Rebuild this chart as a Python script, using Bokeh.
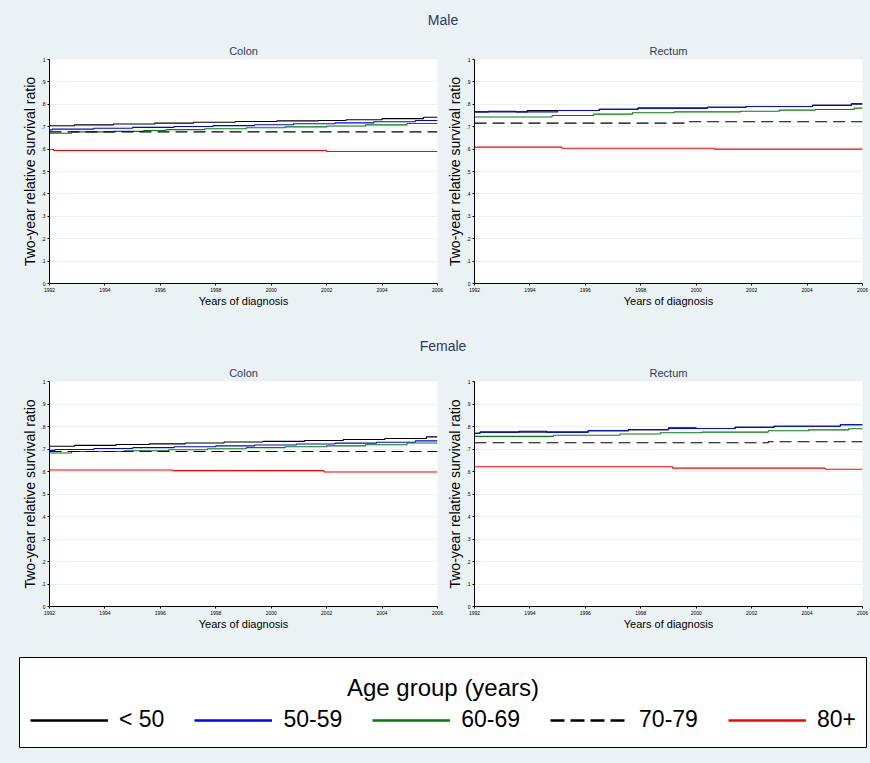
from bokeh.plotting import figure
from bokeh.models import Range1d, CustomJSTickFormatter, Legend, LegendItem
from bokeh.layouts import column, row
from bokeh.embed import file_html
from bokeh.resources import INLINE
from bokeh.core.properties import value

# ---------------- data ----------------
groups = ["< 50", "50-59", "60-69", "70-79", "80+"]
x_ticks = [1992, 1994, 1996, 1998, 2000, 2002, 2004, 2006]
y_ticks = [0, 0.1, 0.2, 0.3, 0.4, 0.5, 0.6, 0.7, 0.8, 0.9, 1.0]

# Male - Colon
mc_lt50_x = [1992, 1992.9, 1994.3, 1995.8, 1997.2, 1998.7, 2000.2, 2001.7, 2002.7, 2004.0, 2005.5, 2006]
mc_lt50_y = [0.704, 0.708, 0.712, 0.716, 0.720, 0.723, 0.726, 0.728, 0.731, 0.736, 0.742, 0.742]
mc_5059_x = [1992, 1992.1, 1993.6, 1995.0, 1996.5, 1997.9, 1999.4, 2000.8, 2002.3, 2003.7, 2005.2, 2006]
mc_5059_y = [0.686, 0.689, 0.693, 0.697, 0.701, 0.705, 0.709, 0.713, 0.717, 0.722, 0.728, 0.728]
mc_6069_x = [1992, 1992.8, 1994.3, 1995.4, 1996.2, 1997.6, 1999.1, 2000.5, 2002.0, 2003.4, 2004.9, 2006]
mc_6069_y = [0.671, 0.677, 0.679, 0.683, 0.687, 0.691, 0.695, 0.699, 0.703, 0.708, 0.714, 0.714]
mc_7079_x = [1992, 2006]
mc_7079_y = [0.677, 0.677]
mc_80_x = [1992, 1992.15, 2002.0, 2006]
mc_80_y = [0.598, 0.594, 0.589, 0.589]

# Male - Rectum
mr_lt50_x = [1992, 1992.5, 1993.5, 1993.9, 1995.0, 1996.5, 1997.9, 2000.4, 2001.8, 2004.2, 2005.6, 2006]
mr_lt50_y = [0.766, 0.769, 0.766, 0.772, 0.772, 0.778, 0.783, 0.787, 0.790, 0.795, 0.802, 0.802]
mr_5059_x = [1992, 1995.0, 1996.5, 1997.9, 2000.4, 2001.8, 2004.2, 2005.6, 2006]
mr_5059_y = [0.766, 0.772, 0.778, 0.783, 0.787, 0.790, 0.795, 0.802, 0.802]
mr_6069_x = [1992, 1994.8, 1996.3, 1997.7, 1999.2, 2001.6, 2003.0, 2004.3, 2005.7, 2006]
mr_6069_y = [0.743, 0.750, 0.756, 0.762, 0.766, 0.769, 0.774, 0.777, 0.783, 0.783]
mr_7079_x = [1992, 1999.75, 2006]
mr_7079_y = [0.716, 0.722, 0.722]
mr_80_x = [1992, 1995.15, 2000.65, 2006]
mr_80_y = [0.609, 0.604, 0.600, 0.600]

# Female - Colon
fc_lt50_x = [1992, 1992.9, 1994.4, 1995.6, 1996.9, 1998.3, 1999.7, 2001.2, 2002.6, 2004.1, 2005.6, 2006]
fc_lt50_y = [0.712, 0.716, 0.720, 0.723, 0.727, 0.731, 0.734, 0.738, 0.742, 0.747, 0.754, 0.754]
fc_5059_x = [1992, 1992.2, 1993.6, 1995.0, 1996.5, 1998.0, 1999.4, 2000.9, 2002.3, 2003.8, 2005.2, 2006]
fc_5059_y = [0.694, 0.698, 0.702, 0.706, 0.710, 0.714, 0.718, 0.722, 0.726, 0.730, 0.736, 0.736]
fc_6069_x = [1992, 1992.8, 1994.7, 1996.3, 1997.7, 1999.1, 2000.5, 2002.0, 2003.4, 2004.9, 2006]
fc_6069_y = [0.682, 0.689, 0.692, 0.697, 0.701, 0.706, 0.710, 0.714, 0.719, 0.727, 0.727]
fc_7079_x = [1992, 2006]
fc_7079_y = [0.689, 0.689]
fc_80_x = [1992, 1996.45, 2001.9, 2006]
fc_80_y = [0.607, 0.604, 0.598, 0.598]

# Female - Rectum
fr_lt50_x = [1992, 1992.2, 1993.6, 1994.6, 1996.1, 1997.55, 1999.0, 2000.0, 2001.4, 2002.8, 2005.2, 2006]
fr_lt50_y = [0.770, 0.775, 0.779, 0.775, 0.781, 0.786, 0.794, 0.791, 0.796, 0.801, 0.808, 0.808]
fr_5059_x = [1992, 1992.2, 1996.1, 1997.55, 1999.0, 2001.4, 2002.8, 2005.2, 2006]
fr_5059_y = [0.770, 0.775, 0.781, 0.786, 0.791, 0.796, 0.801, 0.808, 0.808]
fr_6069_x = [1992, 1994.85, 1997.25, 1998.7, 2000.2, 2002.6, 2004.05, 2005.5, 2006]
fr_6069_y = [0.756, 0.761, 0.767, 0.772, 0.775, 0.781, 0.785, 0.790, 0.790]
fr_7079_x = [1992, 2002.6, 2006]
fr_7079_y = [0.728, 0.732, 0.732]
fr_80_x = [1992, 1999.15, 2004.65, 2006]
fr_80_y = [0.621, 0.615, 0.610, 0.610]

# ---------------- styles ----------------
BG = "#EAF2F3"
FONT = "Liberation Sans"
TITLE_COLOR = "#2c3a62"
colors = ["#000000", "#0000ff", "#008000", "#000000", "#ff0000"]
dashes = ["solid", "solid", "solid", "12 6", "solid"]
legend_dashes = ["solid", "solid", "solid", "14 6", "solid"]

y_fmt = CustomJSTickFormatter(code="""
if (tick <= 0.0001) return "0";
if (tick >= 0.9999) return "1";
return "." + Math.round(tick * 10);
""")


def panel(title, series, width, height, left, right, top, bottom):
    p = figure(width=width, height=height, title=title,
               x_range=Range1d(1992, 2006), y_range=Range1d(0, 1),
               output_backend="svg", toolbar_location=None,
               min_border_left=left, min_border_right=right,
               min_border_top=top, min_border_bottom=bottom)
    p.background_fill_color = "white"
    p.border_fill_color = BG
    p.outline_line_color = None
    p.title.align = "center"
    p.title.text_font = FONT
    p.title.text_font_size = "11px"
    p.title.text_font_style = "normal"
    p.title.text_color = TITLE_COLOR
    p.title.standoff = 6

    p.xaxis.ticker = x_ticks
    p.yaxis.ticker = y_ticks
    p.yaxis.formatter = y_fmt
    for ax in (p.xaxis[0], p.yaxis[0]):
        ax.major_label_text_font = FONT
        ax.major_label_text_font_size = "5px"
        ax.major_label_text_color = "#000000"
        ax.major_label_standoff = 2
        ax.major_tick_in = 0
        ax.major_tick_out = 2
        ax.minor_tick_in = 0
        ax.minor_tick_out = 0
        ax.axis_line_color = "#000000"
        ax.major_tick_line_color = "#000000"
        ax.axis_label_text_font = FONT
        ax.axis_label_text_font_style = "normal"
        ax.axis_label_text_color = "#000000"
    p.xaxis.axis_label = "Years of diagnosis"
    p.xaxis.axis_label_text_font_size = "11px"
    p.xaxis.axis_label_standoff = 0
    p.yaxis.axis_label = "Two-year relative survival ratio"
    p.yaxis.axis_label_text_font_size = "14px"
    p.yaxis.axis_label_standoff = 0
    p.yaxis.major_label_orientation = "horizontal"

    p.xgrid.visible = False
    p.ygrid.grid_line_color = BG
    p.ygrid.grid_line_width = 1

    for (xs, ys), c, d in zip(series, colors, dashes):
        p.step(xs, ys, mode="after", line_color=c, line_dash=d, line_width=1.1)
    return p


def header(text, height, yc):
    p = figure(width=870, height=height, x_range=Range1d(0, 1), y_range=Range1d(0, 1),
               output_backend="svg", toolbar_location=None,
               x_axis_location=None, y_axis_location=None, min_border=0)
    p.background_fill_color = BG
    p.border_fill_color = BG
    p.outline_line_color = None
    p.grid.visible = False
    p.text(x=[0.5], y=[yc], text=[text], text_align="center", text_baseline="middle",
           text_font=value(FONT), text_font_size="14px", text_color=TITLE_COLOR)
    return p


mc_series = [(mc_lt50_x, mc_lt50_y), (mc_5059_x, mc_5059_y), (mc_6069_x, mc_6069_y),
             (mc_7079_x, mc_7079_y), (mc_80_x, mc_80_y)]
mr_series = [(mr_lt50_x, mr_lt50_y), (mr_5059_x, mr_5059_y), (mr_6069_x, mr_6069_y),
             (mr_7079_x, mr_7079_y), (mr_80_x, mr_80_y)]
fc_series = [(fc_lt50_x, fc_lt50_y), (fc_5059_x, fc_5059_y), (fc_6069_x, fc_6069_y),
             (fc_7079_x, fc_7079_y), (fc_80_x, fc_80_y)]
fr_series = [(fr_lt50_x, fr_lt50_y), (fr_5059_x, fr_5059_y), (fr_6069_x, fr_6069_y),
             (fr_7079_x, fr_7079_y), (fr_80_x, fr_80_y)]

male_colon = panel("Colon", mc_series, 444, 285, 49, 7, 24, 37)
male_rect = panel("Rectum", mr_series, 426, 285, 28, 8, 24, 37)
fem_colon = panel("Colon", fc_series, 444, 280, 49, 7, 21, 34)
fem_rect = panel("Rectum", fr_series, 426, 280, 28, 8, 21, 34)

head_m = header("Male", 35, 0.429)
head_f = header("Female", 40, 0.375)

# ---------------- legend ----------------
leg = figure(width=870, height=123, x_range=Range1d(0, 1), y_range=Range1d(0, 1),
             output_backend="svg", toolbar_location=None,
             x_axis_location=None, y_axis_location=None,
             min_border_left=19, min_border_right=4, min_border_top=17, min_border_bottom=16)
leg.background_fill_color = "white"
leg.border_fill_color = BG
leg.outline_line_color = "#000000"
leg.outline_line_width = 1
leg.grid.visible = False
leg.text(x=[0.5], y=[0.667], text=["Age group (years)"], text_align="center", text_baseline="middle",
         text_font=value(FONT), text_font_size="24px", text_color="#000000")
items = []
# legend keys reuse the male-colon series (they fall outside this figure's 0..1 view)
for g, c, d, (xs, ys) in zip(groups, colors, legend_dashes, mc_series):
    r = leg.step(xs, ys, mode="after", line_color=c, line_dash=d, line_width=2.4)
    items.append(LegendItem(label=g, renderers=[r]))
legend = Legend(items=items, orientation="horizontal", location=(11, 14),
                border_line_color=None, background_fill_alpha=0,
                label_text_font=FONT, label_text_font_size="23px", label_text_color="#000000",
                glyph_width=78, glyph_height=26, label_height=26, label_standoff=11,
                spacing=30, padding=0, margin=0)
leg.add_layout(legend)

layout = column(head_m, row(male_colon, male_rect), head_f, row(fem_colon, fem_rect), leg)

html = file_html(layout, INLINE)
html = html.replace("<body>", '<body style="background-color:%s;">' % BG)
open("out.html", "w").write(html)
